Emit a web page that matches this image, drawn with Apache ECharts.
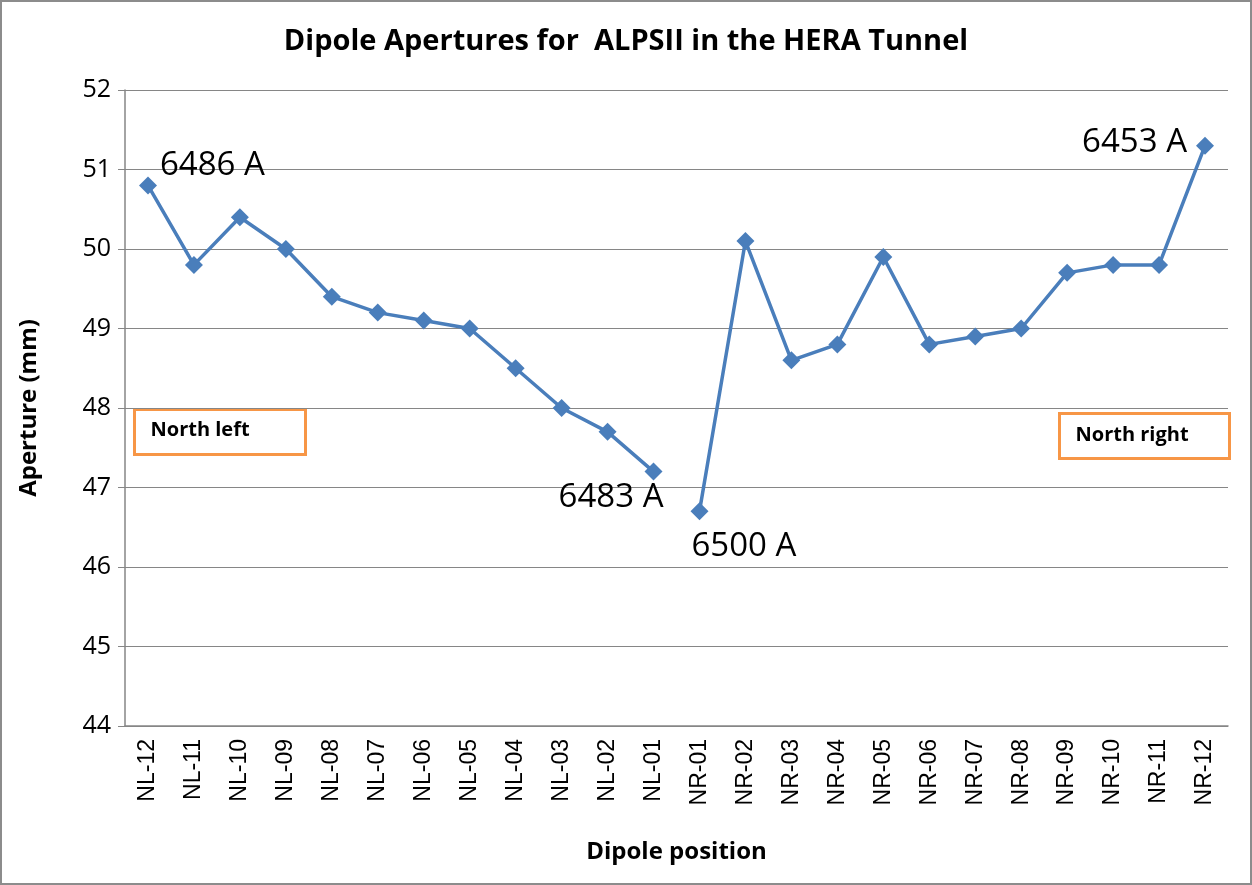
<!DOCTYPE html>
<html>
<head>
<meta charset="utf-8">
<script src="https://cdn.jsdelivr.net/npm/echarts@6/dist/echarts.min.js"></script>
<style>
  html, body { margin: 0; padding: 0; background: #fff; }
  #chart { width: 1252px; height: 885px; box-sizing: border-box; border: 2px solid #8c8c8c; }
</style>
</head>
<body>
<div id="chart"></div>
<script>
// dipole positions, north left then north right
const nlNames = ['NL-12', 'NL-11', 'NL-10', 'NL-09', 'NL-08', 'NL-07', 'NL-06', 'NL-05', 'NL-04', 'NL-03', 'NL-02', 'NL-01'];
const nrNames = ['NR-01', 'NR-02', 'NR-03', 'NR-04', 'NR-05', 'NR-06', 'NR-07', 'NR-08', 'NR-09', 'NR-10', 'NR-11', 'NR-12'];
const nlAperture = [50.8, 49.8, 50.4, 50.0, 49.4, 49.2, 49.1, 49.0, 48.5, 48.0, 47.7, 47.2];
const nrAperture = [46.7, 50.1, 48.6, 48.8, 49.9, 48.8, 48.9, 49.0, 49.7, 49.8, 49.8, 51.3];
// quench currents written next to some magnets
const currentNotes = { 'NL-12': '6486 A', 'NL-01': '6483 A', 'NR-01': '6500 A', 'NR-12': '6453 A' };
const yTicks = [44, 52, 1];

const categories = nlNames.concat(nrNames);
const blue = '#4a7ebb';

// where each note sits relative to its point
const notePos = {
  'NL-12': { position: 'right', offset: [-2, -20] },
  'NL-01': { position: 'left', offset: [24, 26] },
  'NR-01': { position: 'right', offset: [-22, 35] },
  'NR-12': { position: 'left', offset: [-4, -3] }
};

function point(name, v) {
  const d = { value: v };
  if (currentNotes[name]) {
    d.label = Object.assign({
      show: true, formatter: currentNotes[name],
      fontSize: 33, color: '#000', fontFamily: 'Open Sans'
    }, notePos[name]);
  }
  return d;
}

const leftData = categories.map((c, i) => i < nlNames.length ? point(c, nlAperture[i]) : null);
const rightData = categories.map((c, i) => i >= nlNames.length ? point(c, nrAperture[i - nlNames.length]) : null);

const lineSeries = (data) => ({
  type: 'line', data,
  symbol: 'diamond', symbolSize: 18,
  lineStyle: { color: blue, width: 3.5 },
  itemStyle: { color: blue },
  connectNulls: false,
  label: { show: false },
  animation: false
});

const chart = echarts.init(document.getElementById('chart'));
chart.setOption({
  backgroundColor: '#fff',
  title: {
    text: 'Dipole Apertures for  ALPSII in the HERA Tunnel',
    left: 'center', top: 20,
    textStyle: { fontSize: 29, fontWeight: 'bold', fontFamily: 'Open Sans', color: '#000' }
  },
  grid: { left: 123, right: 22, top: 88, bottom: 157 },
  xAxis: {
    type: 'category', data: categories,
    name: 'Dipole position', nameLocation: 'middle', nameGap: 114,
    nameTextStyle: { fontSize: 24, fontWeight: 'bold', fontFamily: 'Open Sans', color: '#000' },
    axisLine: { lineStyle: { color: '#868686', width: 1.5 } },
    axisTick: { length: 7, lineStyle: { color: '#868686' } },
    axisLabel: { rotate: 90, fontSize: 23, fontFamily: 'Liberation Sans', color: '#000', margin: 13, interval: 0 }
  },
  yAxis: {
    type: 'value', min: yTicks[0], max: yTicks[1], interval: yTicks[2],
    name: 'Aperture (mm)', nameLocation: 'middle', nameGap: 84, nameRotate: 90,
    nameTextStyle: { fontSize: 24, fontWeight: 'bold', fontFamily: 'Open Sans', color: '#000' },
    axisLine: { show: true, lineStyle: { color: '#868686', width: 1.5 } },
    axisTick: { show: true, length: 7, lineStyle: { color: '#868686' } },
    axisLabel: { fontSize: 25, fontFamily: 'Open Sans', color: '#000', margin: 14 },
    splitLine: { lineStyle: { color: '#868686', width: 1.2 } }
  },
  graphic: [
    {
      type: 'group', left: 131, top: 406,
      children: [
        { type: 'rect', shape: { width: 171, height: 45 }, style: { fill: '#fff', stroke: '#f79646', lineWidth: 3 } },
        { type: 'text', left: 16, top: 11, style: { text: 'North left', font: 'bold 20px "Open Sans"', fill: '#000' } }
      ]
    },
    {
      type: 'group', left: 1056, top: 410,
      children: [
        { type: 'rect', shape: { width: 170, height: 45 }, style: { fill: '#fff', stroke: '#f79646', lineWidth: 3 } },
        { type: 'text', left: 16, top: 12, style: { text: 'North right', font: 'bold 20px "Open Sans"', fill: '#000' } }
      ]
    }
  ],
  series: [lineSeries(leftData), lineSeries(rightData)]
});
</script>
</body>
</html>
